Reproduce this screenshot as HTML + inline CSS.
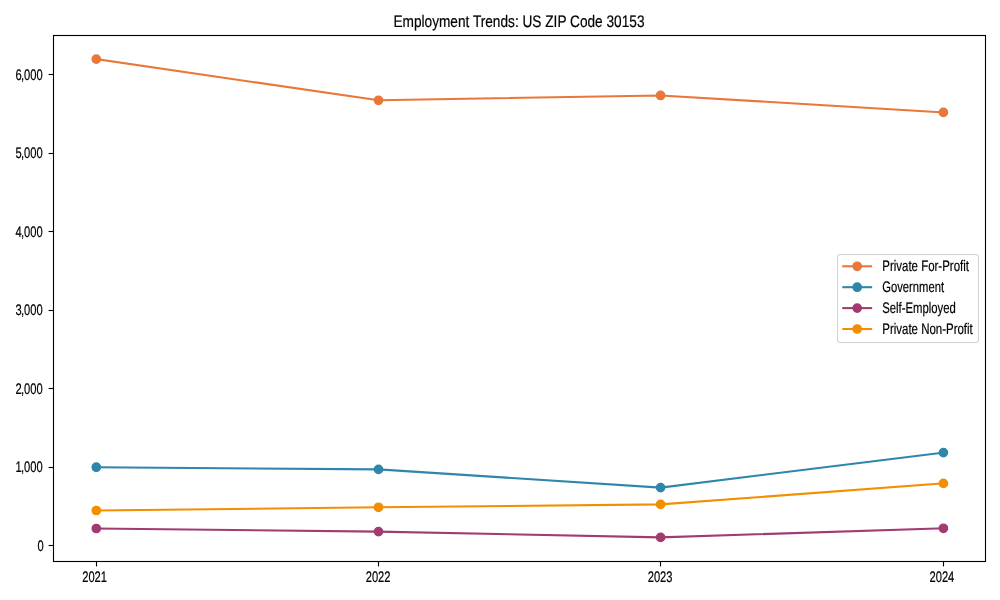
<!DOCTYPE html><html><head><meta charset="utf-8"><style>html,body{margin:0;padding:0;background:#fff;width:1000px;height:600px;overflow:hidden}svg{display:block;will-change:transform}text{font-family:"Liberation Sans",Arial,sans-serif;fill:#000;stroke:#000;stroke-width:0.2px;text-rendering:geometricPrecision}</style></head><body>
<svg width="1000" height="600" viewBox="0 0 1000 600">
<rect width="1000" height="600" fill="#fff"/>
<text transform="translate(518.95,26.80) scale(0.82,1)" text-anchor="middle" font-size="16.667">Employment Trends: US ZIP Code 30153</text>
<polyline points="96.30,59.15 378.50,100.30 660.60,95.45 943.40,112.40" fill="none" stroke="#E8773A" stroke-width="2.08" stroke-linejoin="round" stroke-linecap="square"/>
<circle cx="96.30" cy="59.15" r="4.17" fill="#E8773A" stroke="#E8773A" stroke-width="1.39"/>
<circle cx="378.50" cy="100.30" r="4.17" fill="#E8773A" stroke="#E8773A" stroke-width="1.39"/>
<circle cx="660.60" cy="95.45" r="4.17" fill="#E8773A" stroke="#E8773A" stroke-width="1.39"/>
<circle cx="943.40" cy="112.40" r="4.17" fill="#E8773A" stroke="#E8773A" stroke-width="1.39"/>
<polyline points="96.30,467.20 378.50,469.40 660.60,487.60 943.40,452.60" fill="none" stroke="#2E86AB" stroke-width="2.08" stroke-linejoin="round" stroke-linecap="square"/>
<circle cx="96.30" cy="467.20" r="4.17" fill="#2E86AB" stroke="#2E86AB" stroke-width="1.39"/>
<circle cx="378.50" cy="469.40" r="4.17" fill="#2E86AB" stroke="#2E86AB" stroke-width="1.39"/>
<circle cx="660.60" cy="487.60" r="4.17" fill="#2E86AB" stroke="#2E86AB" stroke-width="1.39"/>
<circle cx="943.40" cy="452.60" r="4.17" fill="#2E86AB" stroke="#2E86AB" stroke-width="1.39"/>
<polyline points="96.30,528.50 378.50,531.60 660.60,537.40 943.40,528.30" fill="none" stroke="#A23B72" stroke-width="2.08" stroke-linejoin="round" stroke-linecap="square"/>
<circle cx="96.30" cy="528.50" r="4.17" fill="#A23B72" stroke="#A23B72" stroke-width="1.39"/>
<circle cx="378.50" cy="531.60" r="4.17" fill="#A23B72" stroke="#A23B72" stroke-width="1.39"/>
<circle cx="660.60" cy="537.40" r="4.17" fill="#A23B72" stroke="#A23B72" stroke-width="1.39"/>
<circle cx="943.40" cy="528.30" r="4.17" fill="#A23B72" stroke="#A23B72" stroke-width="1.39"/>
<polyline points="96.30,510.50 378.50,507.30 660.60,504.40 943.40,483.40" fill="none" stroke="#F18F01" stroke-width="2.08" stroke-linejoin="round" stroke-linecap="square"/>
<circle cx="96.30" cy="510.50" r="4.17" fill="#F18F01" stroke="#F18F01" stroke-width="1.39"/>
<circle cx="378.50" cy="507.30" r="4.17" fill="#F18F01" stroke="#F18F01" stroke-width="1.39"/>
<circle cx="660.60" cy="504.40" r="4.17" fill="#F18F01" stroke="#F18F01" stroke-width="1.39"/>
<circle cx="943.40" cy="483.40" r="4.17" fill="#F18F01" stroke="#F18F01" stroke-width="1.39"/>
<rect x="53.5" y="35.5" width="932" height="526" fill="none" stroke="#000" stroke-width="1.11"/>
<line x1="48.6" y1="545.50" x2="53.5" y2="545.50" stroke="#000" stroke-width="1.11"/>
<text transform="translate(43.70,550.71) scale(0.73,1)" text-anchor="end" font-size="15.3">0</text>
<line x1="48.6" y1="467.50" x2="53.5" y2="467.50" stroke="#000" stroke-width="1.11"/>
<text transform="translate(42.70,472.21) scale(0.73,1)" text-anchor="end" font-size="15.3">1<tspan dx="-1.1">,000</tspan></text>
<line x1="48.6" y1="388.50" x2="53.5" y2="388.50" stroke="#000" stroke-width="1.11"/>
<text transform="translate(42.70,393.71) scale(0.73,1)" text-anchor="end" font-size="15.3">2<tspan dx="-1.1">,000</tspan></text>
<line x1="48.6" y1="310.50" x2="53.5" y2="310.50" stroke="#000" stroke-width="1.11"/>
<text transform="translate(42.70,315.21) scale(0.73,1)" text-anchor="end" font-size="15.3">3<tspan dx="-1.1">,000</tspan></text>
<line x1="48.6" y1="231.50" x2="53.5" y2="231.50" stroke="#000" stroke-width="1.11"/>
<text transform="translate(42.70,236.71) scale(0.73,1)" text-anchor="end" font-size="15.3">4<tspan dx="-1.1">,000</tspan></text>
<line x1="48.6" y1="153.50" x2="53.5" y2="153.50" stroke="#000" stroke-width="1.11"/>
<text transform="translate(42.70,158.21) scale(0.73,1)" text-anchor="end" font-size="15.3">5<tspan dx="-1.1">,000</tspan></text>
<line x1="48.6" y1="74.50" x2="53.5" y2="74.50" stroke="#000" stroke-width="1.11"/>
<text transform="translate(42.70,79.71) scale(0.73,1)" text-anchor="end" font-size="15.3">6<tspan dx="-1.1">,000</tspan></text>
<line x1="96.50" y1="561.5" x2="96.50" y2="566.4" stroke="#000" stroke-width="1.11"/>
<text transform="translate(94.60,581.70) scale(0.73,1)" text-anchor="middle" font-size="15.3">2021</text>
<line x1="378.50" y1="561.5" x2="378.50" y2="566.4" stroke="#000" stroke-width="1.11"/>
<text transform="translate(378.10,581.70) scale(0.73,1)" text-anchor="middle" font-size="15.3">2022</text>
<line x1="660.50" y1="561.5" x2="660.50" y2="566.4" stroke="#000" stroke-width="1.11"/>
<text transform="translate(660.10,581.70) scale(0.73,1)" text-anchor="middle" font-size="15.3">2023</text>
<line x1="943.50" y1="561.5" x2="943.50" y2="566.4" stroke="#000" stroke-width="1.11"/>
<text transform="translate(941.90,581.70) scale(0.73,1)" text-anchor="middle" font-size="15.3">2024</text>
<rect x="837.5" y="254.5" width="141" height="88" rx="2.78" fill="#fff" fill-opacity="0.8" stroke="#d2d2d2" stroke-width="1.1"/>
<line x1="843.3" y1="266.30" x2="871.1" y2="266.30" stroke="#E8773A" stroke-width="2.08" stroke-linecap="square"/>
<circle cx="857.2" cy="266.30" r="4.17" fill="#E8773A" stroke="#E8773A" stroke-width="1.39"/>
<text transform="translate(882.25,271.00) scale(0.75,1)" text-anchor="start" font-size="15.3">Private For-Profit</text>
<line x1="843.3" y1="287.20" x2="871.1" y2="287.20" stroke="#2E86AB" stroke-width="2.08" stroke-linecap="square"/>
<circle cx="857.2" cy="287.20" r="4.17" fill="#2E86AB" stroke="#2E86AB" stroke-width="1.39"/>
<text transform="translate(882.25,291.90) scale(0.734,1)" text-anchor="start" font-size="15.3">Government</text>
<line x1="843.3" y1="308.10" x2="871.1" y2="308.10" stroke="#A23B72" stroke-width="2.08" stroke-linecap="square"/>
<circle cx="857.2" cy="308.10" r="4.17" fill="#A23B72" stroke="#A23B72" stroke-width="1.39"/>
<text transform="translate(882.25,312.80) scale(0.739,1)" text-anchor="start" font-size="15.3">Self-Employed</text>
<line x1="843.3" y1="329.00" x2="871.1" y2="329.00" stroke="#F18F01" stroke-width="2.08" stroke-linecap="square"/>
<circle cx="857.2" cy="329.00" r="4.17" fill="#F18F01" stroke="#F18F01" stroke-width="1.39"/>
<text transform="translate(882.25,333.70) scale(0.75,1)" text-anchor="start" font-size="15.3">Private Non-Profit</text>
</svg></body></html>
